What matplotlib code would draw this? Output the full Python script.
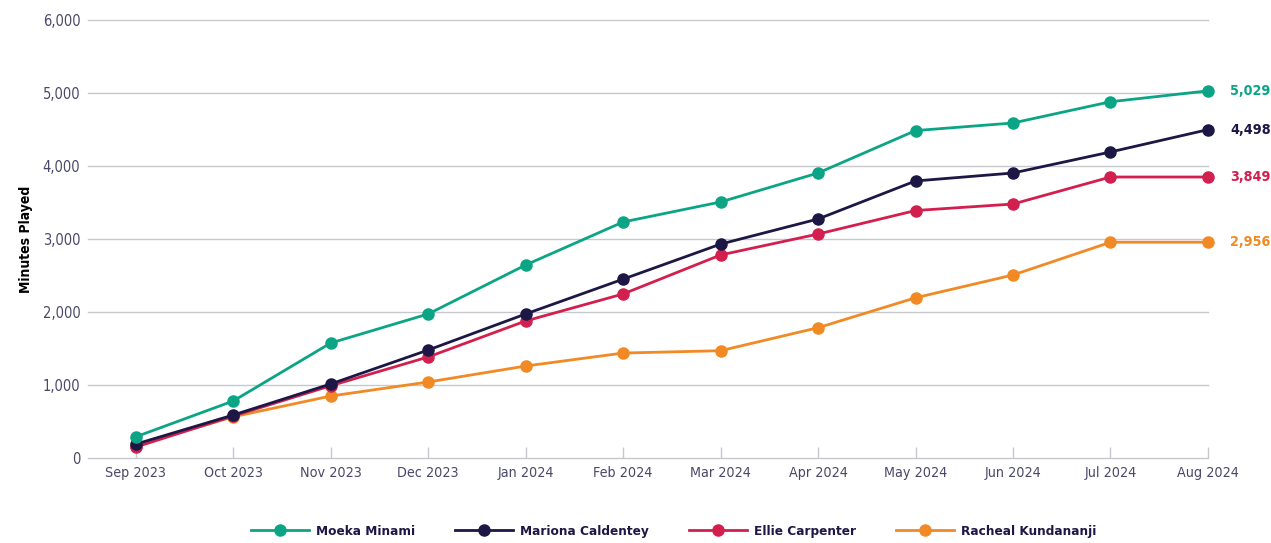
import matplotlib.pyplot as plt
import numpy as np

months = ['Sep 2023', 'Oct 2023', 'Nov 2023', 'Dec 2023', 'Jan 2024', 'Feb 2024',
          'Mar 2024', 'Apr 2024', 'May 2024', 'Jun 2024', 'Jul 2024', 'Aug 2024']

moeka = [290, 781, 1575, 1973, 2644, 3233, 3507, 3904, 4485, 4589, 4880, 5029]
mariona = [190, 589, 1014, 1479, 1973, 2450, 2930, 3274, 3795, 3904, 4192, 4498]
ellie = [150, 575, 990, 1384, 1877, 2247, 2781, 3068, 3390, 3479, 3849, 3849]
racheal = [170, 565, 849, 1041, 1260, 1438, 1470, 1785, 2195, 2507, 2956, 2956]

names = ['Moeka Minami', 'Mariona Caldentey', 'Ellie Carpenter', 'Racheal Kundananji']
colors = ['#0ba585', '#1d1746', '#d21f4e', '#f18a24']

font = ['DejaVu Sans']
tick_color = '#4a4868'
plt.rcParams['font.stretch'] = 'condensed'

fig = plt.figure(figsize=(12.71, 5.43), dpi=100)
ax = fig.add_axes([0.0692, 0.1565, 0.8812, 0.8067])

x = np.arange(len(months))
series = [moeka, mariona, ellie, racheal]
# draw back to front so the top series sits on top
for vals, name, col in reversed(list(zip(series, names, colors))):
    ax.plot(x, vals, color=col, lw=2, marker='o', markersize=8, label=name,
            zorder=3, clip_on=False)

for vals, col in zip(series, colors):
    ax.text(x[-1] + 0.225, vals[-1], f'{vals[-1]:,}', color=col, fontsize=10.3,
            fontweight='bold', family=font, stretch='condensed', va='center', ha='left')

ax.set_xlim(-0.49, 11)
ax.set_ylim(0, 6000)
ax.set_yticks(np.arange(0, 6001, 1000))
ax.set_yticklabels([f'{v:,}' for v in range(0, 6001, 1000)])
ax.set_xticks(x)
ax.set_xticklabels(months)

ax.grid(axis='y', color='#c6c8cc', lw=1)
for gl in ax.get_ygridlines():
    gl.set_clip_on(False)
ax.set_axisbelow(True)
for s in ax.spines.values():
    s.set_visible(False)
ax.tick_params(axis='y', length=0, pad=5.5, labelsize=10.5, labelcolor=tick_color)
ax.tick_params(axis='x', direction='in', length=8, color='#c6c8cc', width=1, pad=6,
               labelsize=10.3, labelcolor=tick_color)
for lab in ax.get_xticklabels() + ax.get_yticklabels():
    lab.set_family(font)
    lab.set_stretch('condensed')

ax.set_ylabel('Minutes Played', fontsize=10, fontweight='bold', family=font,
              stretch='condensed', color='black', labelpad=7)

handles, labels = ax.get_legend_handles_labels()
leg = fig.legend(handles[::-1], labels[::-1], loc='center', bbox_to_anchor=(0.53, 0.022),
                 ncol=4, frameon=False, handlelength=4.3, handletextpad=0.5,
                 columnspacing=3.0,
                 prop={'family': font, 'weight': 'bold', 'size': 9.7,
                       'stretch': 'condensed'})
for t in leg.get_texts():
    t.set_color('#1d1746')

fig.savefig('out.png', dpi=100)
